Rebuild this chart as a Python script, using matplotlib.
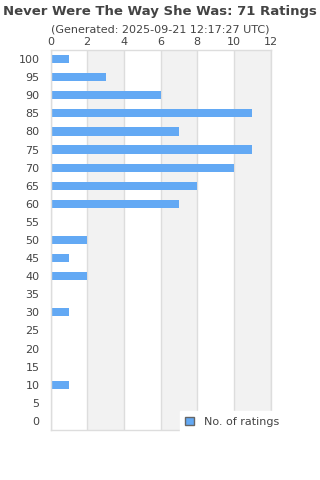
import matplotlib.pyplot as plt
from matplotlib.patches import Patch

scores = [100, 95, 90, 85, 80, 75, 70, 65, 60, 55, 50, 45, 40, 35, 30, 25, 20, 15, 10, 5, 0]
counts = [1, 3, 6, 11, 7, 11, 10, 8, 7, 0, 2, 1, 2, 0, 1, 0, 0, 0, 1, 0, 0]
x_ticks = [0, 2, 4, 6, 8, 10, 12]

bar_color = "#63a9f4"
text_color = "#444444"

fig = plt.figure(figsize=(3.2, 4.8), dpi=100)
ax = fig.add_axes([50.5 / 320, 1 - 430 / 480, 220 / 320, 380 / 480])

# alternating bands
for i in range(0, len(x_ticks) - 1):
    if i % 2 == 1:
        ax.axvspan(x_ticks[i], x_ticks[i + 1], color="#f2f2f2", zorder=0, lw=0)
for t in x_ticks:
    ax.axvline(t, color="#dddddd", lw=1, zorder=1)

y = list(range(len(scores)))
ax.barh(y, counts, height=0.45, color=bar_color, zorder=2)
ax.set_ylim(len(scores) - 0.5, -0.5)
ax.set_xlim(0, 12)
ax.set_yticks(y)
ax.set_yticklabels([str(s) for s in scores])
ax.set_xticks(x_ticks)
ax.xaxis.tick_top()
ax.tick_params(length=0, labelsize=8, colors=text_color, pad=2)
ax.tick_params(axis="y", pad=8)
for side in ["top", "right", "left", "bottom"]:
    ax.spines[side].set_color("#dddddd")
    ax.spines[side].set_linewidth(1)

fig.text(0.5, 1 - 12 / 480, "Never Were The Way She Was: 71 Ratings",
         ha="center", va="center", fontsize=9.5, fontweight="bold", color=text_color)
fig.text(0.5, 1 - 30 / 480, "(Generated: 2025-09-21 12:17:27 UTC)",
         ha="center", va="center", fontsize=8, color=text_color)

handle = Patch(facecolor=bar_color, edgecolor="#666666", linewidth=1)
leg = fig.legend([handle], ["No. of ratings"], loc="center left",
                 bbox_to_anchor=(174 / 320, 1 - 422 / 480), frameon=True,
                 fontsize=8, handlelength=0.8, handleheight=0.8, borderpad=0.5,
                 handletextpad=0.9, fancybox=False)
leg.get_frame().set_edgecolor("white")
leg.get_frame().set_facecolor("white")
leg.get_frame().set_alpha(1)
for t in leg.get_texts():
    t.set_color(text_color)

fig.savefig("out.png", dpi=100)
